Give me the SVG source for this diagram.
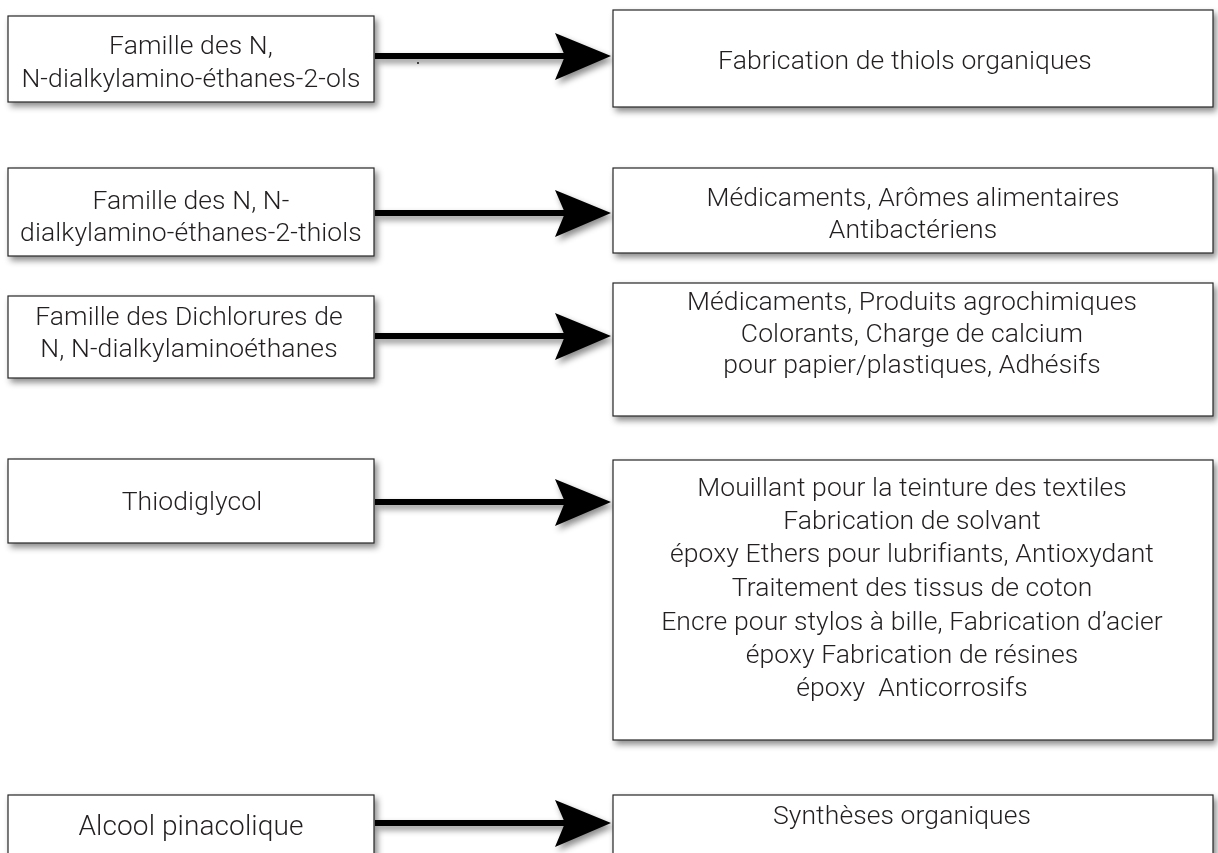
<svg xmlns="http://www.w3.org/2000/svg" xmlns:xlink="http://www.w3.org/1999/xlink" width="1218" height="853" viewBox="0 0 1218 853">
  <style>
    .box { fill: #ffffff; stroke: #262626; stroke-width: 1.2; filter: url(#shadow); }
    .t { font-family: Roboto, "Liberation Sans", sans-serif; font-weight: 300; font-size: 26.5px; letter-spacing: 0.1px; fill: #231f20; text-anchor: middle; }
    .big { font-size: 28px; letter-spacing: 0.1px; }
    .arr { fill: #000000; }
  </style>
  <defs>
    <filter id="shadow" x="-10%" y="-20%" width="130%" height="150%">
      <feDropShadow dx="3" dy="4" stdDeviation="3" flood-color="#000000" flood-opacity="0.45"/>
    </filter>
    <g id="arrow">
      <rect x="375" y="-3" width="192" height="6"/>
      <polygon points="611,0 555,-23 565,0 555,24"/>
    </g>
  </defs>
  <rect width="1218" height="853" fill="#ffffff"/>

  <g id="connectors" class="arr" filter="url(#shadow)">
    <use xlink:href="#arrow" href="#arrow" y="56"/>
    <use xlink:href="#arrow" href="#arrow" y="213"/>
    <use xlink:href="#arrow" href="#arrow" y="336"/>
    <use xlink:href="#arrow" href="#arrow" y="502"/>
    <use xlink:href="#arrow" href="#arrow" y="823"/>
  </g>
  <circle cx="418" cy="63" r="0.9" fill="#000000"/>

  <g id="n1">
    <rect class="box" x="8" y="16" width="366" height="86"/>
    <text class="t" x="191" y="54">Famille des N,</text>
    <text class="t" x="191" y="87">N-dialkylamino-éthanes-2-ols</text>
  </g>
  <g id="r1">
    <rect class="box" x="613" y="10" width="600" height="97"/>
    <text class="t" x="905" y="69">Fabrication de thiols organiques</text>
  </g>

  <g id="n2">
    <rect class="box" x="8" y="168" width="366" height="88"/>
    <text class="t" x="191" y="209">Famille des N, N-</text>
    <text class="t" x="191" y="241">dialkylamino-éthanes-2-thiols</text>
  </g>
  <g id="r2">
    <rect class="box" x="613" y="168" width="600" height="85"/>
    <text class="t" x="913" y="206">Médicaments, Arômes alimentaires</text>
    <text class="t" x="913" y="238">Antibactériens</text>
  </g>

  <g id="n3">
    <rect class="box" x="8" y="296" width="366" height="82"/>
    <text class="t" x="189" y="325">Famille des Dichlorures de</text>
    <text class="t" x="189" y="357">N, N-dialkylaminoéthanes</text>
  </g>
  <g id="r3">
    <rect class="box" x="613" y="283" width="600" height="133"/>
    <text class="t" x="912" y="310">Médicaments, Produits agrochimiques</text>
    <text class="t" x="912" y="341.5">Colorants, Charge de calcium</text>
    <text class="t" x="912" y="373">pour papier/plastiques, Adhésifs</text>
  </g>

  <g id="n4">
    <rect class="box" x="8" y="459" width="366" height="84"/>
    <text class="t" x="192" y="510">Thiodiglycol</text>
  </g>
  <g id="r4">
    <rect class="box" x="613" y="460" width="600" height="280"/>
    <text class="t" x="912" y="496">Mouillant pour la teinture des textiles</text>
    <text class="t" x="912" y="529">Fabrication de solvant</text>
    <text class="t" x="912" y="562">époxy Ethers pour lubrifiants, Antioxydant</text>
    <text class="t" x="912" y="596">Traitement des tissus de coton</text>
    <text class="t" x="912" y="630">Encre pour stylos à bille, Fabrication d’acier</text>
    <text class="t" x="912" y="663">époxy Fabrication de résines</text>
    <text class="t" x="912" y="696" xml:space="preserve">époxy  Anticorrosifs</text>
  </g>

  <g id="n5">
    <rect class="box" x="8" y="795" width="366" height="70"/>
    <text class="t big" x="191" y="835">Alcool pinacolique</text>
  </g>
  <g id="r5">
    <rect class="box" x="613" y="795" width="600" height="70"/>
    <text class="t" x="902" y="824">Synthèses organiques</text>
  </g>
</svg>
